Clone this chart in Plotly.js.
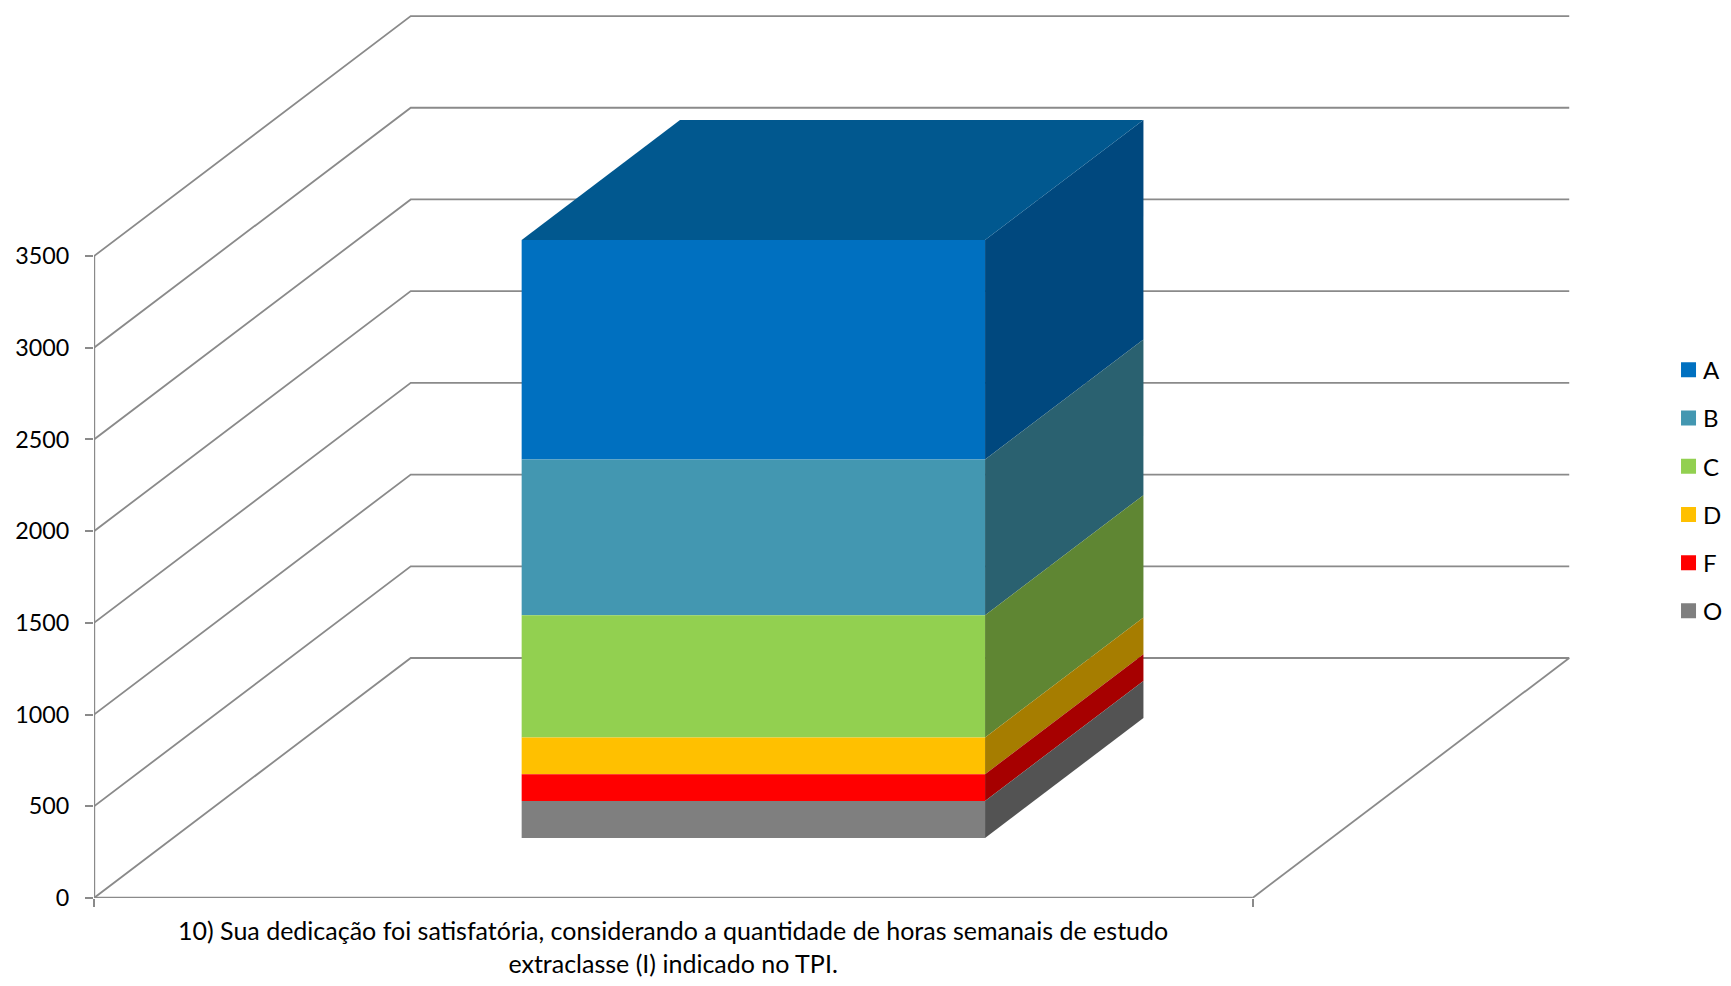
<!DOCTYPE html>
<html>
<head>
<meta charset="utf-8">
<script src="https://cdn.plot.ly/plotly-3.0.1.min.js"></script>
<style>html,body{margin:0;padding:0;background:#fff}#chart{width:1731px;height:986px}.legendtext{transform:translateX(-5.5px)}</style>
</head>
<body>
<div id="chart"></div>
<script>
// --- data ---
const seriesNames = ['A', 'B', 'C', 'D', 'F', 'O'];
const seriesValues = [1196, 849, 667, 200, 146, 202];
const frontColors = ['#0070C0', '#4397B1', '#92D050', '#FFC000', '#FF0000', '#7F7F7F'];
const sideColors = ['#00487E', '#2A6170', '#5F8633', '#A67D00', '#A60000', '#535353'];
const topColor = '#01588F';
const yTicks = [0, 500, 1000, 1500, 2000, 2500, 3000, 3500];
const categoryLabel = '10) Sua dedicação foi satisfatória, considerando a quantidade de horas semanais de estudo<br>extraclasse (I) indicado no TPI.';

// --- oblique projection of the 3D box on the 2D axes ---
const depthX = 0.2734, depthY = 1308.6;
const barLeft = 0.3008, barRight = 0.7008, barFront = 0.25, barBack = 0.75;
const px = (u, d) => u + depthX * d;
const py = (v, d) => v + depthY * d;

const gridColor = '#8A8A8A', textFont = 'Lato, sans-serif', tickSize = 23.3, legendSize = 24, labelSize = 25;
const shapeLine = (pts, width) => ({
  type: 'path', layer: 'below', xref: 'x', yref: 'y',
  path: 'M' + pts.map(p => px(p[0], p[2]) + ',' + py(p[1], p[2])).join('L'),
  line: {color: gridColor, width: width}
});

const shapes = yTicks.map(v => shapeLine([[0, v, 0], [0, v, 1], [1, v, 1]], 1.8));
shapes.push(shapeLine([[0, 0, 0], [1, 0, 0]], 2.4));
shapes.push(shapeLine([[1, 0, 0], [1, 0, 1]], 1.8));
shapes.push(shapeLine([[0, 0, 0], [0, yTicks[yTicks.length - 1], 0]], 2.4));

// stack from the bottom (last series) to the top (first series)
const bases = seriesNames.map(() => 0);
let running = 0;
for (let i = seriesNames.length - 1; i >= 0; i--) { bases[i] = running; running += seriesValues[i]; }

const traces = [];
seriesNames.forEach((name, i) => {
  const lo = bases[i], hi = bases[i] + seriesValues[i];
  traces.push({
    type: 'bar', x: [px((barLeft + barRight) / 2, barFront)], y: [seriesValues[i]],
    base: [py(lo, barFront)], width: [barRight - barLeft],
    marker: {color: frontColors[i], line: {width: 0}},
    name: name, legendgroup: name, showlegend: false, hoverinfo: 'skip'
  });
  traces.push({
    type: 'scatter', mode: 'lines', fill: 'toself', fillcolor: sideColors[i],
    line: {width: 0}, name: name, legendgroup: name, showlegend: false, hoverinfo: 'skip',
    x: [px(barRight, barFront), px(barRight, barBack), px(barRight, barBack), px(barRight, barFront), px(barRight, barFront)],
    y: [py(lo, barFront), py(lo, barBack), py(hi, barBack), py(hi, barFront), py(lo, barFront)]
  });
});
traces.push({
  type: 'scatter', mode: 'lines', fill: 'toself', fillcolor: topColor,
  line: {width: 0}, showlegend: false, hoverinfo: 'skip', legendgroup: seriesNames[0],
  x: [px(barLeft, barFront), px(barRight, barFront), px(barRight, barBack), px(barLeft, barBack), px(barLeft, barFront)],
  y: [py(running, barFront), py(running, barFront), py(running, barBack), py(running, barBack), py(running, barFront)]
});
seriesNames.forEach((name, i) => {
  traces.push({
    type: 'scatter', mode: 'markers', x: [null], y: [null], name: name, legendgroup: name,
    marker: {symbol: 'square', size: 15, color: frontColors[i]}, hoverinfo: 'skip'
  });
});

const layout = {
  width: 1731, height: 986,
  paper_bgcolor: '#fff', plot_bgcolor: 'rgba(0,0,0,0)',
  margin: {l: 94, r: 131, t: 0, b: 88, autoexpand: false},
  barmode: 'overlay',
  font: {family: textFont, size: tickSize, color: '#000'},
  showlegend: true,
  legend: {
    x: 1.0455, xanchor: 'left', y: 0.4535, yanchor: 'middle',
    bgcolor: 'rgba(0,0,0,0)', borderwidth: 0, tracegroupgap: 14,
    itemwidth: 30, font: {family: textFont, size: legendSize, color: '#000'}
  },
  xaxis: {
    range: [0, 1.29996], fixedrange: true, showgrid: false, zeroline: false, showline: false,
    tickmode: 'array', tickvals: [0, 1], ticktext: ['', ''], ticks: 'outside', ticklen: 8, tickwidth: 2, tickcolor: gridColor
  },
  yaxis: {
    range: [0, 4896], fixedrange: true, showgrid: false, zeroline: false, showline: false,
    tickmode: 'array', tickvals: yTicks, ticktext: yTicks.map(String),
    ticks: 'outside', ticklen: 8, tickwidth: 2, tickcolor: gridColor, ticklabelstandoff: 11
  },
  shapes: shapes,
  annotations: [{
    xref: 'x', yref: 'y', x: 0.5, y: 0, yshift: -15, xanchor: 'center', yanchor: 'top',
    text: categoryLabel, showarrow: false, align: 'center',
    font: {family: textFont, size: labelSize, color: '#000'}
  }]
};
Plotly.newPlot('chart', traces, layout, {displayModeBar: false, staticPlot: true});
</script>
</body>
</html>
